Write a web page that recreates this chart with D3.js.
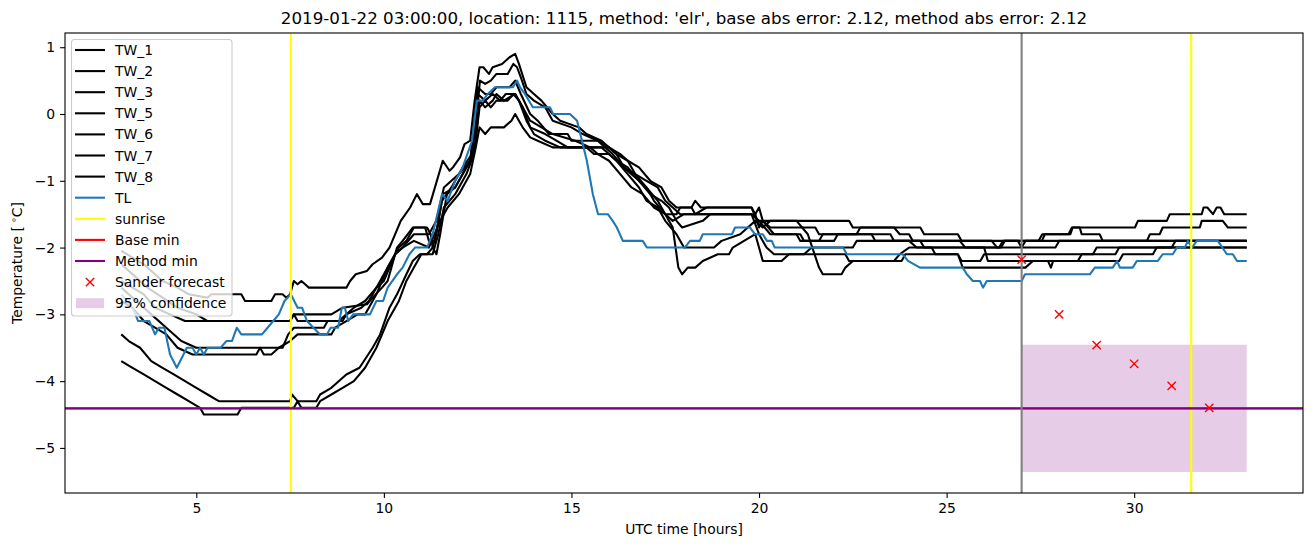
<!DOCTYPE html>
<html><head><meta charset="utf-8">
<script src="https://cdn.jsdelivr.net/npm/d3@7"></script>
<style>body{margin:0;background:#fff} svg{display:block} text{font-family:"DejaVu Sans",sans-serif;fill:#000}</style>
</head><body><svg id="c" width="1313" height="547"></svg>
<script>
// ---- data: [hour, temperature] ----
const TW_1=[[3,-2.05],[3.3,-2.15],[3.6,-2.25],[3.9,-2.4],[4.1,-2.5],[4.5,-2.6],[4.8,-2.7],[5.3,-2.75],[5.4,-2.7],[6.2,-2.7],[6.3,-2.8],[7.0,-2.8],[7.1,-2.7],[7.3,-2.7],[7.4,-2.75],[7.5,-2.7],[7.6,-2.5],[7.7,-2.55],[7.8,-2.5],[7.9,-2.55],[8.0,-2.6],[9.0,-2.6],[9.1,-2.5],[9.25,-2.4],[9.55,-2.35],[9.7,-2.25],[9.95,-2.15],[10.15,-2.0],[10.45,-1.6],[10.7,-1.4],[10.88,-1.2],[11.04,-1.35],[11.23,-1.35],[11.57,-0.7],[11.75,-0.85],[11.84,-0.8],[12.03,-0.65],[12.15,-0.45],[12.3,-0.4],[12.42,0.2],[12.55,0.7],[12.65,0.7],[12.8,0.6],[12.9,0.7],[13.15,0.75],[13.35,0.85],[13.5,0.9],[13.6,0.75],[13.8,0.4],[14.0,0.3],[14.2,0.2],[14.5,0.0],[14.7,-0.1],[15.2,-0.2],[15.4,-0.3],[15.8,-0.4],[16.0,-0.5],[16.3,-0.6],[16.5,-0.7],[16.8,-0.8],[17.1,-1.0],[17.4,-1.1],[17.6,-1.3],[17.8,-1.4],[18.2,-1.4],[18.3,-1.3],[18.45,-1.4],[19.8,-1.4],[19.95,-1.6],[22.4,-1.6],[22.5,-1.7],[24.3,-1.7],[24.4,-1.8],[25.3,-1.8],[25.4,-1.9],[26.2,-1.9],[26.35,-2.0],[26.45,-2.0],[26.55,-1.9],[26.9,-1.9],[27.0,-2.0],[27.1,-1.9],[27.54,-1.9],[27.62,-1.8],[28.3,-1.8],[28.36,-1.7],[30.02,-1.7],[30.1,-1.6],[30.87,-1.6],[30.95,-1.5],[31.8,-1.5],[31.85,-1.4],[31.95,-1.4],[32.1,-1.5],[32.2,-1.4],[32.3,-1.4],[32.4,-1.5],[33,-1.5]];
const TW_2=[[3,-2.25],[3.4,-2.45],[3.7,-2.6],[4.1,-2.75],[4.5,-2.9],[5.0,-3.0],[5.3,-3.1],[7.5,-3.1],[7.6,-3.0],[8.6,-3.0],[8.9,-2.9],[9.55,-2.85],[9.7,-2.75],[9.95,-2.6],[10.1,-2.5],[10.35,-2.0],[10.5,-1.9],[10.77,-1.7],[11.15,-1.7],[11.25,-1.8],[11.3,-2.0],[11.4,-2.1],[11.5,-1.8],[11.68,-1.2],[11.9,-1.1],[12.1,-0.9],[12.3,-0.7],[12.45,-0.2],[12.56,0.5],[12.7,0.45],[12.85,0.5],[13.0,0.6],[13.3,0.6],[13.45,0.75],[13.55,0.7],[13.65,0.55],[13.8,0.3],[14.0,0.2],[14.3,0.1],[14.5,-0.1],[15.0,-0.2],[15.3,-0.3],[15.7,-0.4],[16.0,-0.5],[16.2,-0.6],[16.5,-0.7],[16.7,-0.9],[17.0,-1.0],[17.3,-1.1],[17.5,-1.3],[17.7,-1.4],[17.9,-1.5],[19.9,-1.5],[20.0,-1.7],[20.1,-1.6],[20.3,-1.7],[21.5,-1.7],[21.6,-1.8],[23.5,-1.8],[23.6,-1.9],[27.45,-1.9],[27.55,-1.8],[28.25,-1.8],[28.34,-1.7],[28.55,-1.7],[28.6,-1.8],[29.08,-1.8],[29.16,-1.9],[30.34,-1.9],[30.42,-1.8],[30.68,-1.8],[30.76,-1.7],[31.75,-1.7],[31.8,-1.6],[32.36,-1.6],[32.5,-1.7],[33,-1.7]];
const TW_3=[[3,-2.6],[3.4,-2.8],[3.8,-3.0],[4.2,-3.2],[4.6,-3.4],[5.0,-3.5],[7.3,-3.5],[7.45,-3.3],[7.6,-3.2],[8.4,-3.2],[8.5,-3.1],[8.9,-3.1],[9.0,-3.0],[9.4,-2.9],[9.6,-2.8],[9.8,-2.6],[10.0,-2.5],[10.3,-2.1],[10.5,-2.0],[10.8,-1.8],[11.2,-1.8],[11.4,-1.6],[11.6,-1.1],[11.8,-1.0],[12.0,-0.9],[12.3,-0.7],[12.5,0.4],[12.7,0.3],[12.85,0.3],[13.0,0.4],[13.35,0.4],[13.5,0.5],[13.65,0.3],[13.9,0.0],[14.1,-0.1],[14.4,-0.3],[14.9,-0.3],[15.0,-0.4],[15.7,-0.4],[15.9,-0.5],[16.1,-0.6],[16.4,-0.8],[16.7,-0.9],[17.0,-1.1],[17.2,-1.3],[17.5,-1.5],[17.8,-1.5],[17.9,-1.4],[18.2,-1.4],[18.3,-1.5],[18.6,-1.4],[19.8,-1.4],[19.9,-1.5],[20.0,-1.4],[20.1,-1.6],[20.4,-1.8],[21.0,-1.8],[21.1,-1.9],[22.0,-1.9],[22.1,-1.8],[23.0,-1.8],[23.1,-1.9],[24.3,-1.9],[24.4,-2.0],[26.4,-2.0],[26.5,-1.9],[33,-1.9]];
const TW_5=[[3,-2.8],[3.3,-2.9],[3.6,-3.1],[3.9,-3.2],[4.2,-3.3],[4.5,-3.5],[4.9,-3.6],[6.6,-3.6],[6.7,-3.5],[6.8,-3.6],[7.0,-3.6],[7.2,-3.5],[7.5,-3.4],[7.7,-3.3],[8.6,-3.3],[8.7,-3.2],[9.0,-3.1],[9.3,-3.0],[9.5,-3.0],[9.6,-2.9],[9.8,-2.7],[10.1,-2.3],[10.4,-2.0],[10.6,-1.9],[10.8,-1.7],[11.1,-1.7],[11.2,-1.9],[11.35,-1.9],[11.55,-1.3],[11.8,-1.1],[12.1,-0.8],[12.35,-0.6],[12.5,0.3],[12.7,0.2],[12.9,0.3],[13.1,0.2],[13.25,0.3],[13.5,0.3],[13.7,0.1],[13.9,-0.1],[14.2,-0.2],[14.5,-0.3],[15.1,-0.4],[15.5,-0.5],[16.0,-0.5],[16.2,-0.6],[16.4,-0.8],[16.6,-0.9],[16.8,-1.0],[17.1,-1.2],[17.4,-1.3],[17.6,-1.4],[17.8,-1.6],[17.95,-1.7],[18.5,-1.6],[18.7,-1.5],[19.8,-1.5],[20.0,-1.8],[20.2,-2.0],[20.4,-2.1],[21.2,-2.1],[21.4,-2.0],[22.5,-2.0],[22.6,-1.9],[24.0,-1.9],[24.2,-2.0],[27.9,-2.0],[28.0,-1.9],[33,-1.9]];
const TW_6=[[3,-3.3],[3.2,-3.4],[3.5,-3.5],[3.8,-3.7],[4.1,-3.8],[4.4,-3.9],[4.7,-4.0],[5.0,-4.1],[5.3,-4.2],[5.6,-4.3],[7.5,-4.3],[7.55,-4.2],[7.7,-4.3],[8.2,-4.3],[8.3,-4.2],[8.6,-4.1],[9.0,-3.9],[9.35,-3.8],[9.7,-3.5],[9.9,-3.3],[10.15,-2.9],[10.35,-2.7],[10.6,-2.4],[10.77,-2.2],[10.96,-2.1],[11.15,-2.1],[11.3,-2.0],[11.4,-1.8],[11.57,-1.2],[11.9,-1.1],[12.3,-0.7],[12.45,-0.4],[12.55,0.2],[12.7,0.1],[12.9,0.2],[13.0,0.3],[13.2,0.2],[13.5,0.3],[13.7,0.1],[13.9,-0.2],[14.3,-0.3],[14.6,-0.4],[14.9,-0.5],[15.8,-0.5],[16.0,-0.6],[16.2,-0.7],[16.5,-0.8],[16.8,-1.0],[17.0,-1.1],[17.3,-1.3],[17.5,-1.5],[17.7,-1.7],[17.85,-2.3],[17.95,-2.4],[18.1,-2.3],[18.3,-2.3],[18.5,-2.2],[18.9,-2.1],[19.2,-2.1],[19.3,-2.0],[19.6,-1.9],[19.9,-1.8],[20.0,-2.0],[20.1,-2.2],[20.6,-2.2],[20.8,-2.1],[22.3,-2.1],[22.4,-2.2],[23.8,-2.2],[23.9,-2.1],[25.3,-2.1],[25.4,-2.2],[25.9,-2.2],[26.0,-2.1],[28.9,-2.1],[29.0,-2.0],[33,-2.0]];
const TW_7=[[3,-3.7],[3.3,-3.8],[3.6,-3.9],[3.9,-4.0],[4.2,-4.1],[4.5,-4.2],[4.8,-4.3],[5.1,-4.4],[5.2,-4.5],[6.1,-4.5],[6.2,-4.4],[7.6,-4.4],[7.7,-4.3],[7.8,-4.4],[8.2,-4.4],[8.3,-4.3],[8.6,-4.2],[8.9,-4.1],[9.2,-4.0],[9.5,-3.8],[9.8,-3.5],[10.1,-3.1],[10.4,-2.8],[10.6,-2.5],[10.8,-2.3],[11.0,-2.1],[11.3,-2.1],[11.45,-1.8],[11.6,-1.4],[11.9,-1.2],[12.2,-0.9],[12.4,-0.6],[12.55,0.1],[12.7,0.2],[12.85,0.1],[13.0,0.2],[13.3,0.2],[13.45,0.3],[13.6,0.2],[13.8,-0.1],[14.0,-0.3],[14.3,-0.4],[14.7,-0.5],[15.4,-0.5],[15.6,-0.6],[16.0,-0.6],[16.2,-0.7],[16.5,-0.9],[16.8,-1.1],[17.0,-1.3],[17.3,-1.4],[17.5,-1.6],[17.8,-1.8],[18.0,-2.0],[18.8,-2.0],[19.0,-1.9],[19.5,-1.8],[19.7,-1.7],[19.9,-1.6],[20.1,-1.7],[20.3,-1.6],[21.0,-1.6],[21.3,-1.8],[21.6,-2.3],[21.7,-2.4],[22.2,-2.4],[22.3,-2.3],[22.5,-2.2],[23.6,-2.2],[23.75,-2.1],[24.0,-2.0],[24.6,-2.0],[24.7,-2.1],[25.3,-2.1],[25.43,-2.3],[27.1,-2.3],[27.3,-2.2],[29.6,-2.2],[29.7,-2.1],[30.5,-2.1],[30.6,-2.0],[33,-2.0]];
const TW_8=[[3,-2.5],[3.3,-2.6],[3.6,-2.7],[3.9,-2.9],[4.3,-3.0],[4.7,-3.1],[7.5,-3.1],[7.6,-3.0],[7.7,-3.1],[8.8,-3.1],[9.0,-3.0],[9.2,-2.9],[9.5,-2.8],[9.8,-2.6],[10.1,-2.3],[10.3,-2.1],[10.5,-2.0],[10.8,-1.9],[11.2,-2.0],[11.5,-1.6],[11.7,-1.4],[12.0,-1.2],[12.3,-0.9],[12.45,-0.5],[12.55,-0.2],[12.7,-0.3],[12.85,-0.2],[13.2,-0.2],[13.4,-0.1],[13.5,0.0],[13.6,-0.1],[13.7,-0.2],[13.9,-0.35],[14.1,-0.4],[14.5,-0.5],[15.5,-0.5],[15.7,-0.6],[16.0,-0.7],[16.3,-0.9],[16.6,-1.1],[16.9,-1.2],[17.2,-1.4],[17.5,-1.5],[17.7,-1.6],[18.0,-1.5],[19.8,-1.5],[20.0,-1.6],[20.3,-1.8],[21.1,-1.8],[21.2,-1.9],[21.6,-1.9],[21.7,-1.8],[22.6,-1.8],[22.7,-1.7],[23.6,-1.7],[23.75,-1.8],[24.0,-1.8],[24.1,-1.9],[25.35,-1.9],[25.5,-2.0],[26.0,-2.0],[26.1,-2.2],[27.7,-2.2],[27.78,-2.3],[27.84,-2.2],[28.5,-2.2],[28.6,-2.1],[29.5,-2.1],[29.6,-2.0],[31.0,-2.0],[31.1,-1.9],[33,-1.9]];
const TL=[[3.0,-2.7],[3.15,-2.8],[3.3,-2.9],[3.45,-3.1],[3.75,-3.1],[3.9,-3.3],[4.0,-3.2],[4.15,-3.2],[4.3,-3.6],[4.48,-3.8],[4.75,-3.5],[4.9,-3.5],[5.0,-3.6],[5.1,-3.5],[5.2,-3.6],[5.3,-3.5],[5.65,-3.5],[5.8,-3.4],[5.95,-3.4],[6.08,-3.2],[6.2,-3.3],[6.75,-3.3],[6.9,-3.2],[7.05,-3.1],[7.2,-3.0],[7.35,-2.8],[7.52,-2.7],[7.7,-2.9],[7.82,-2.9],[7.95,-3.1],[8.12,-3.2],[8.3,-3.3],[8.48,-3.3],[8.58,-3.2],[8.78,-3.2],[8.88,-2.9],[8.96,-2.9],[9.05,-3.1],[9.18,-3.0],[9.63,-3.0],[9.8,-2.8],[9.98,-2.8],[10.1,-2.6],[10.35,-2.4],[10.5,-2.3],[10.68,-2.1],[10.83,-2.0],[11.15,-2.0],[11.3,-1.8],[11.55,-1.2],[11.7,-1.3],[11.9,-1.0],[12.1,-0.8],[12.35,-0.4],[12.48,0.2],[12.64,0.2],[12.77,0.3],[12.96,0.4],[13.44,0.4],[13.55,0.5],[13.63,0.4],[13.76,0.3],[13.97,0.1],[14.43,0.1],[14.51,0.0],[14.96,0.0],[15.15,-0.1],[15.28,-0.4],[15.41,-0.7],[15.57,-1.2],[15.71,-1.5],[15.97,-1.5],[16.1,-1.6],[16.21,-1.7],[16.37,-1.9],[16.9,-1.9],[17.01,-2.0],[18.02,-2.0],[18.16,-1.9],[18.42,-1.9],[18.5,-1.8],[19.28,-1.8],[19.36,-1.7],[19.76,-1.7],[19.89,-1.8],[20.1,-1.8],[20.21,-1.9],[20.34,-1.9],[20.42,-2.0],[22.24,-2.0],[22.34,-2.1],[23.83,-2.1],[23.97,-2.2],[24.29,-2.3],[25.43,-2.3],[25.54,-2.4],[25.7,-2.5],[25.89,-2.5],[25.97,-2.6],[26.07,-2.5],[27.0,-2.5],[27.09,-2.4],[28.82,-2.4],[28.95,-2.3],[29.43,-2.3],[29.54,-2.2],[29.62,-2.3],[29.96,-2.3],[30.07,-2.2],[30.63,-2.2],[30.76,-2.1],[31.03,-2.1],[31.14,-2.0],[31.35,-2.0],[31.43,-1.9],[31.54,-2.0],[31.67,-1.9],[32.23,-1.9],[32.47,-2.1],[32.63,-2.1],[32.74,-2.2],[33.0,-2.2]];
const twNames=["TW_1","TW_2","TW_3","TW_5","TW_6","TW_7","TW_8"];
const twSeries=[TW_1,TW_2,TW_3,TW_5,TW_6,TW_7,TW_8];
const sunriseHours=[7.52,31.52];
const forecastHour=27;
const baseMin=-4.405;
const methodMin=-4.41;
const sanderHours=[27,28,29,30,31,32];
const sanderValues=[-2.18,-3.0,-3.46,-3.74,-4.07,-4.40];
const confHours=[27,33];
const confBounds=[-5.36,-3.455];
const xTicks=[5,10,15,20,25,30];
const yTicks=[1,0,-1,-2,-3,-4,-5];
const title="2019-01-22 03:00:00, location: 1115, method: 'elr', base abs error: 2.12, method abs error: 2.12";

// ---- layout ----
const L=65,R=1303,T=33,B=493;
const svg=d3.select("#c");
const x=d3.scaleLinear().domain([1.5,34.5]).range([L,R]);
const y=d3.scaleLinear().domain([-5.675,1.213]).range([B,T]);
svg.append("defs").append("clipPath").attr("id","clip").append("rect").attr("x",L).attr("y",T).attr("width",R-L).attr("height",B-T);
const g=svg.append("g").attr("clip-path","url(#clip)");
const line=d3.line().x(d=>x(d[0])).y(d=>y(d[1]));
const LW=2.08;

// confidence band
g.append("rect").attr("x",x(confHours[0])).attr("width",x(confHours[1])-x(confHours[0]))
 .attr("y",y(confBounds[1])).attr("height",y(confBounds[0])-y(confBounds[1]))
 .attr("fill","purple").attr("fill-opacity",0.2);

twSeries.forEach(s=>g.append("path").datum(s).attr("d",line).attr("fill","none").attr("stroke","#000").attr("stroke-width",LW).attr("stroke-linejoin","round"));
g.append("path").datum(TL).attr("d",line).attr("fill","none").attr("stroke","#1f77b4").attr("stroke-width",LW).attr("stroke-linejoin","round");

sunriseHours.forEach(h=>g.append("line").attr("x1",x(h)).attr("x2",x(h)).attr("y1",T).attr("y2",B).attr("stroke","yellow").attr("stroke-width",LW));
g.append("line").attr("x1",L).attr("x2",R).attr("y1",y(baseMin)).attr("y2",y(baseMin)).attr("stroke","red").attr("stroke-width",LW);
g.append("line").attr("x1",L).attr("x2",R).attr("y1",y(methodMin)).attr("y2",y(methodMin)).attr("stroke","purple").attr("stroke-width",LW);
g.append("line").attr("x1",x(forecastHour)).attr("x2",x(forecastHour)).attr("y1",T).attr("y2",B).attr("stroke","gray").attr("stroke-width",LW);

const ms=4.15;
sanderHours.forEach((h,i)=>{
  const cx=x(h),cy=y(sanderValues[i]);
  g.append("path").attr("d",`M${cx-ms},${cy-ms}L${cx+ms},${cy+ms}M${cx-ms},${cy+ms}L${cx+ms},${cy-ms}`).attr("stroke","red").attr("stroke-width",1.4).attr("fill","none");
});

// axes
const ax=svg.append("g").attr("transform",`translate(0,${B})`).call(d3.axisBottom(x).tickValues(xTicks).tickFormat(d3.format("d")).tickSize(4.9).tickPadding(4.9));
const ay=svg.append("g").attr("transform",`translate(${L},0)`).call(d3.axisLeft(y).tickValues(yTicks).tickFormat(d3.format("d")).tickSize(4.9).tickPadding(4.9));
[ax,ay].forEach(a=>{a.select(".domain").remove();a.selectAll("line").attr("stroke","#000").attr("stroke-width",1.1);a.selectAll("text").attr("font-size","13.9px").attr("font-family","DejaVu Sans").attr("fill","#000");});
svg.append("rect").attr("x",L).attr("y",T).attr("width",R-L).attr("height",B-T).attr("fill","none").attr("stroke","#000").attr("stroke-width",1.1);

svg.append("text").attr("x",(L+R)/2).attr("y",24).attr("text-anchor","middle").attr("font-size","16.7px").text(title);
svg.append("text").attr("x",(L+R)/2).attr("y",534).attr("text-anchor","middle").attr("font-size","13.9px").text("UTC time [hours]");
const yl=svg.append("text").attr("transform",`translate(22,${(T+B)/2}) rotate(-90)`).attr("text-anchor","middle").attr("font-size","13.9px");
yl.append("tspan").text("Temperature [");
yl.append("tspan").attr("font-size","9.5px").attr("dy","-5").text(" ∘");
yl.append("tspan").attr("dy","5").text("C]");

// legend
const lg=svg.append("g");
lg.append("rect").attr("x",71.5).attr("y",39.5).attr("width",160.5).attr("height",276.5).attr("rx",3).attr("fill","#fff").attr("fill-opacity",0.8).attr("stroke","#ccc").attr("stroke-width",1.1);
const items=twNames.map(n=>({label:n,type:"line",color:"#000"})).concat([
 {label:"TL",type:"line",color:"#1f77b4"},{label:"sunrise",type:"line",color:"yellow"},
 {label:"Base min",type:"line",color:"red"},{label:"Method min",type:"line",color:"purple"},
 {label:"Sander forecast",type:"x",color:"red"},{label:"95% confidence",type:"patch",color:"purple"}]);
items.forEach((it,i)=>{
  const cy=50+i*21.1;
  if(it.type==="line") lg.append("line").attr("x1",75).attr("x2",105).attr("y1",cy).attr("y2",cy).attr("stroke",it.color).attr("stroke-width",LW);
  else if(it.type==="x") lg.append("path").attr("d",`M${90-ms},${cy-ms}L${90+ms},${cy+ms}M${90-ms},${cy+ms}L${90+ms},${cy-ms}`).attr("stroke","red").attr("stroke-width",1.4);
  else lg.append("rect").attr("x",76).attr("y",cy-5).attr("width",28).attr("height",10).attr("fill",it.color).attr("fill-opacity",0.2);
  lg.append("text").attr("x",115).attr("y",cy+5).attr("font-size","13.9px").text(it.label);
});
</script></body></html>
